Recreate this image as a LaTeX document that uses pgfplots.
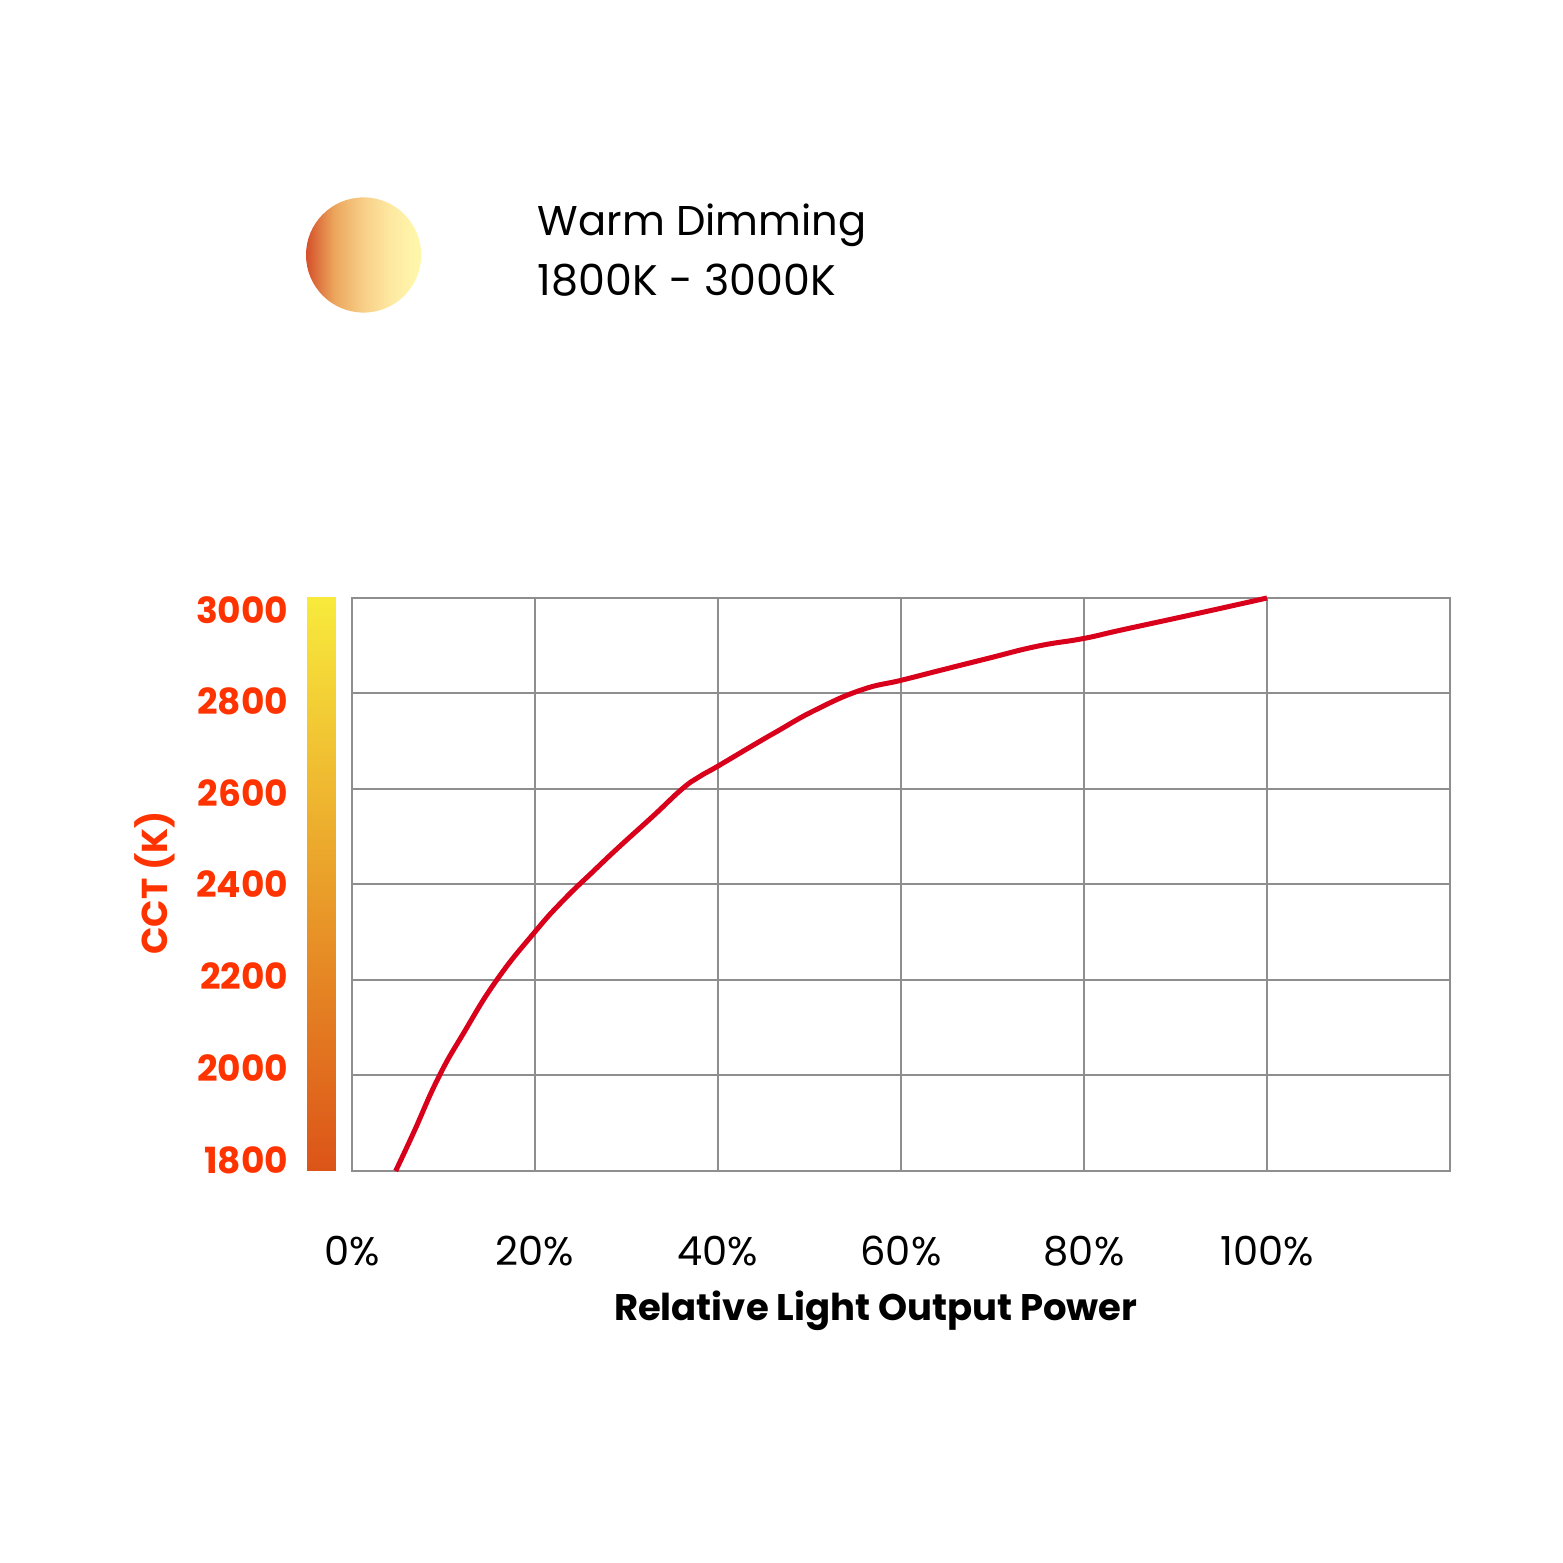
\documentclass[border=0pt]{standalone}
\usepackage{fontspec}
\setmainfont{Poppins}
\usepackage{pgfplots}
\pgfplotsset{compat=1.18}
\definecolor{cctorange}{HTML}{FF3300}
\definecolor{curvered}{HTML}{D9001B}
\definecolor{gridgray}{HTML}{8E8E8E}
\definecolor{bartop}{HTML}{F8EA3C}
\definecolor{barmid}{HTML}{EBA830}
\definecolor{barbot}{HTML}{DC5418}
\definecolor{c1}{HTML}{D5502A}
\definecolor{c2}{HTML}{EBA55C}
\definecolor{c3}{HTML}{F8CF88}
\definecolor{c4}{HTML}{FEE9A2}
\definecolor{c5}{HTML}{FFF6AA}
\pgfdeclarehorizontalshading{sunshade}{100bp}{color(0bp)=(c1); color(25bp)=(c1); color(37bp)=(c2); color(50bp)=(c3); color(62bp)=(c4); color(72bp)=(c5); color(100bp)=(c5)}
\begin{document}
\begin{tikzpicture}
\useasboundingbox (0,0) rectangle (390.75pt,390.75pt);
% header
\shade[shading=sunshade] (90.9pt,327pt) circle (14.4pt);
\node[anchor=base west, inner sep=0pt, font=\fontsize{10.4}{12}\selectfont] at (134.25pt,331.75pt) {Warm Dimming};
\node[anchor=base west, inner sep=0pt, font=\fontsize{10.7}{12}\selectfont] at (134.25pt,316.75pt) {1800K - 3000K};
\begin{axis}[
  at={(88pt,98pt)}, anchor=south west,
  scale only axis, width=274.5pt, height=143.25pt,
  xmin=0, xmax=120, ymin=1800, ymax=3000,
  clip=false,
  axis line style={gridgray, line width=0.5pt},
  major tick length=0pt,
  xtick={0,20,40,60,80,100},
  xticklabels={0\%,20\%,40\%,60\%,80\%,100\%},
  xmajorgrids,
  grid style={gridgray, line width=0.5pt},
  ytick={1823,2016,2208,2400,2592,2783,2975},
  yticklabels={1800,2000,2200,2400,2600,2800,3000},
  extra y ticks={2000,2200,2400,2600,2800},
  extra y tick labels={},
  extra y tick style={grid=major, major tick length=0pt},
  xticklabel style={anchor=north, inner sep=0pt, yshift=-16pt, font=\fontsize{10}{11}\selectfont, text=black},
  yticklabel style={anchor=east, inner sep=0pt, xshift=-15.75pt, font=\bfseries\fontsize{9}{10}\selectfont, text=cctorange},
  xlabel={Relative Light Output Power},
  xlabel style={at={(axis description cs:0.477,-0.244)}, anchor=center, font=\bfseries\fontsize{9.25}{11}\selectfont},
  ylabel={CCT (K)},
  ylabel style={at={(axis description cs:-0.1794,0.5026)}, anchor=center, rotate=0, font=\bfseries\fontsize{9}{10}\selectfont, text=cctorange},
]
\shade[bottom color=barbot, middle color=barmid, top color=bartop] (axis cs:-4.918,1800) rectangle (axis cs:-1.749,3000);
\addplot[curvered, line width=1.25pt, smooth, tension=0.8] coordinates {
(4.77,1800) (6.7,1879) (9.43,1995) (12.17,2088) (15.82,2200) (20,2301) (23.1,2367) (26.5,2430) (29.15,2478) (33,2545) (36.07,2600) (37.9,2625) (40,2648) (43.7,2690) (46.4,2720) (50.6,2765) (55.6,2807) (60.1,2828) (64.4,2849) (69.4,2873) (74.9,2899) (79.9,2915) (84.1,2933) (92.5,2968) (100,3000)
};
\end{axis}
\end{tikzpicture}
\end{document}
